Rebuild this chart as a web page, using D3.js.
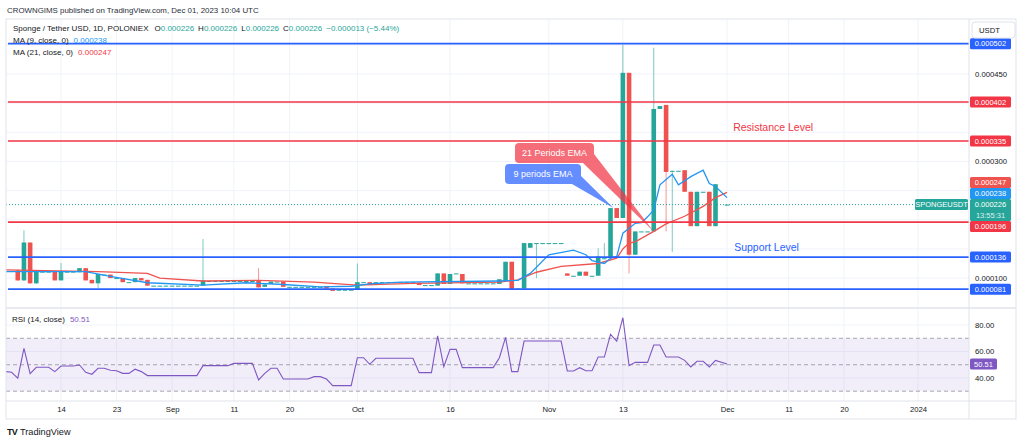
<!DOCTYPE html>
<html>
<head>
<meta charset="utf-8">
<title>SPONGEUSDT 1D</title>
<script src="https://cdn.jsdelivr.net/npm/d3@7"></script>
<style>
    body { margin: 0; background: #ffffff; }
    svg { display: block; font-family: "Liberation Sans", Arial, sans-serif; }
</style>
</head>
<body>
<div id="chart"></div>
<script>
// prices are in micro-USDT (1e-6 USDT)
// one bar per day, Aug 7 .. Nov 28, then the Dec 1 bar
const barDays = d3.timeDay.range(new Date(2023, 7, 7), new Date(2023, 10, 29))
    .concat([new Date(2023, 11, 1)]);

const opens = [
    113, 96, 161, 91, 111, 111, 111, 96, 111, 111, 110, 117, 97, 91, 106, 106, 100, 100, 93, 93, 100, 97, 87, 87, 87,
    87, 87, 87, 87, 87, 87, 95, 95, 95, 95, 95, 95, 95, 95, 96, 85, 90, 94, 94, 85, 85, 85, 85, 85, 85, 86, 82, 80, 80, 80,
    80, 93, 93, 89, 93, 93, 93, 93, 93, 93, 92, 88, 88, 87, 108, 90, 108, 107, 91, 91, 91, 91, 91, 90, 95, 128, 82, 82, 152, 160, 160,
    160, 160, 160, 108, 104, 104, 111, 104, 104, 134, 134, 220, 203, 452, 140, 180, 180, 180, 390, 397, 284, 284, 285, 248, 189, 248, 248, 189,
    226
];
const highs = [
    115, 182, 161, 111, 111, 111, 111, 126, 111, 111, 117, 117, 97, 107, 106, 106, 100, 100, 93, 100, 100, 97, 87, 87, 87,
    87, 87, 87, 87, 87, 167, 95, 95, 95, 95, 95, 95, 95, 95, 117, 89, 94, 94, 94, 85, 85, 85, 85, 85, 85, 86, 82, 80, 80, 80,
    125, 93, 93, 93, 93, 93, 93, 93, 93, 93, 92, 88, 88, 108, 108, 107, 108, 107, 91, 91, 91, 91, 91, 98, 128, 128, 82, 160, 160, 160, 160,
    160, 160, 160, 108, 104, 111, 111, 104, 151, 160, 220, 220, 500, 452, 180, 180, 180, 495, 395, 397, 284, 284, 285, 248, 248, 248, 248, 261,
    226
];
const lows = [
    95, 95, 90, 90, 111, 111, 96, 96, 111, 111, 110, 96, 91, 83, 106, 100, 100, 93, 93, 93, 96, 87, 87, 87, 87,
    87, 87, 87, 87, 87, 87, 95, 95, 95, 95, 95, 95, 95, 95, 84, 85, 90, 94, 85, 85, 85, 85, 85, 85, 85, 82, 78, 80, 80, 80,
    80, 93, 88, 89, 93, 93, 93, 93, 93, 93, 88, 88, 88, 87, 90, 90, 108, 91, 91, 91, 91, 91, 91, 90, 95, 81, 82, 82, 152, 100, 160,
    160, 160, 160, 104, 104, 104, 104, 104, 104, 134, 134, 203, 203, 108, 140, 180, 180, 180, 390, 180, 145, 284, 248, 189, 189, 248, 189, 189,
    226
];
const closes = [
    96, 161, 91, 111, 111, 111, 96, 111, 111, 111, 117, 96, 91, 107, 106, 100, 100, 93, 93, 100, 96, 87, 87, 87, 87,
    87, 87, 87, 87, 87, 96, 95, 95, 95, 95, 95, 95, 95, 95, 84, 89, 94, 94, 85, 85, 85, 85, 85, 85, 85, 82, 78, 80, 80, 80,
    93, 93, 88, 93, 93, 93, 93, 93, 93, 93, 88, 88, 88, 108, 90, 107, 108, 91, 91, 91, 91, 91, 91, 98, 128, 81, 82, 160, 160, 160, 160,
    160, 160, 160, 104, 104, 111, 104, 104, 137, 134, 220, 203, 452, 140, 180, 180, 180, 390, 395, 282, 284, 284, 248, 189, 248, 248, 189, 261,
    226
];

// MA (9) and MA (21)
const ma9Dates = ['2023-08-05', '2023-08-18', '2023-08-22', '2023-08-28', '2023-09-06', '2023-09-13', '2023-09-19',
    '2023-09-25', '2023-09-30', '2023-10-03', '2023-10-08', '2023-10-24', '2023-10-27', '2023-10-29', '2023-11-01',
    '2023-11-05', '2023-11-07', '2023-11-08', '2023-11-10', '2023-11-11', '2023-11-12', '2023-11-13', '2023-11-15',
    '2023-11-16', '2023-11-17', '2023-11-18', '2023-11-19', '2023-11-21', '2023-11-22', '2023-11-24', '2023-11-26',
    '2023-11-27', '2023-11-28', '2023-12-01'];
const ma9Values = [111, 111, 103, 92, 88, 92, 89, 85, 86, 90, 93, 95, 96, 108, 140, 148, 140, 130, 125, 134, 137,
    177, 194, 195, 205, 217, 260, 278, 260, 274, 285, 262, 257, 238];

const ma21Dates = ['2023-08-05', '2023-08-20', '2023-08-28', '2023-08-30', '2023-09-06', '2023-09-15', '2023-09-24',
    '2023-09-28', '2023-10-01', '2023-10-10', '2023-10-24', '2023-10-27', '2023-10-30', '2023-11-03', '2023-11-09',
    '2023-11-12', '2023-11-13', '2023-11-14', '2023-11-15', '2023-11-17', '2023-11-18', '2023-11-20', '2023-11-23',
    '2023-11-26', '2023-11-28', '2023-12-01'];
const ma21Values = [114, 111, 108, 100, 95, 96, 93, 90, 88, 91, 93, 97, 110, 120, 125, 134, 150, 160, 162, 174, 180,
    193, 206, 223, 238, 247];

// RSI (14, close)
const rsiDates = ['2023-08-05', '2023-08-06', '2023-08-07', '2023-08-08', '2023-08-09', '2023-08-10', '2023-08-12',
    '2023-08-13', '2023-08-14', '2023-08-16', '2023-08-17', '2023-08-18', '2023-08-19', '2023-08-20', '2023-08-21',
    '2023-08-22', '2023-08-23', '2023-08-24', '2023-08-25', '2023-08-26', '2023-08-27', '2023-08-28', '2023-09-05',
    '2023-09-06', '2023-09-10', '2023-09-11', '2023-09-14', '2023-09-15', '2023-09-16', '2023-09-17', '2023-09-18',
    '2023-09-19', '2023-09-23', '2023-09-24', '2023-09-25', '2023-09-26', '2023-09-27', '2023-09-30', '2023-10-01',
    '2023-10-02', '2023-10-03', '2023-10-04', '2023-10-10', '2023-10-11', '2023-10-13', '2023-10-14', '2023-10-15',
    '2023-10-16', '2023-10-17', '2023-10-18', '2023-10-23', '2023-10-24', '2023-10-25', '2023-10-26', '2023-10-27',
    '2023-10-28', '2023-11-03', '2023-11-04', '2023-11-05', '2023-11-06', '2023-11-07', '2023-11-08', '2023-11-09',
    '2023-11-10', '2023-11-11', '2023-11-12', '2023-11-13', '2023-11-14', '2023-11-15', '2023-11-17', '2023-11-18',
    '2023-11-19', '2023-11-20', '2023-11-22', '2023-11-23', '2023-11-24', '2023-11-25', '2023-11-26', '2023-11-27',
    '2023-11-28', '2023-12-01'];
const rsiValues = [44.8, 44.3, 39.8, 62.4, 43.3, 48.1, 48.1, 44.8, 49, 49, 49.8, 44.3, 42.8, 47.3, 47.3,
    45.8, 45.5, 43.5, 43.5, 46.6, 44.8, 41.8, 41.8, 49.3, 49.3, 51, 51, 38.5, 43.5, 47.3, 47.3,
    39.2, 39.2, 41, 41, 39.2, 34.2, 34.2, 55.3, 55.3, 50.3, 54.9, 54.9, 44, 44, 71.9, 48.6,
    61.6, 61.6, 47.8, 47.8, 55.3, 70.7, 44.8, 44.8, 67.9, 67.9, 45.3, 45.3, 47.8, 45.5, 45.5, 55.8,
    55.8, 73, 67.9, 85.5, 49.3, 51.8, 51.8, 64.9, 64.9, 55.8, 55.8, 53.3, 48.3, 52.6, 52.6, 48.3,
    53.3, 50.51];

// drawn levels
const blueLevels = [502, 136, 81];
const redLevels = [402, 335, 196];
const lastPrice = 226;
const lastRsi = 50.51;

// axis ticks
const tickDates = ['2023-08-14', '2023-08-23', '2023-09-01', '2023-09-11', '2023-09-20', '2023-10-01', '2023-10-16',
    '2023-11-01', '2023-11-13', '2023-12-01', '2023-12-11', '2023-12-20', '2024-01-01'];
const tickLabels = ['14', '23', 'Sep', '11', '20', 'Oct', '16', 'Nov', '13', 'Dec', '11', '20', '2024'];
const priceTicks = [100, 150, 200, 250, 300, 350, 400, 450, 500];
const rsiTicks = [80, 60, 40];
const rsiBands = [70, 50, 30];

const width = 1024, height = 443;
const frameLeft = 6, frameRight = 1016, frameTop = 19, frameBottom = 419;
const axisX = 969, priceBottom = 308, rsiBottom = 401;

const green = '#26a69a', red = '#ef5350', lineRed = '#f23645', lineBlue = '#2962ff', maBlue = '#2196f3',
    purple = '#7e57c2', textColor = '#131722', gridColor = '#f0f3fa', borderColor = '#e0e3eb';

const parse = d3.timeParse('%Y-%m-%d');
const fmtPrice = d => (d / 1e6).toFixed(6);

const svg = d3.select('#chart').append('svg')
    .attr('width', width)
    .attr('height', height);

svg.append('rect').attr('width', width).attr('height', height).attr('fill', '#ffffff');

// one bar is missing at the end of November, TradingView closes the gap
const x = d3.scaleTime()
    .domain([parse('2023-08-14'), parse('2023-11-28'), parse('2023-12-01'), parse('2024-01-01')])
    .range([61, 715.5, 727, 918]);

const y = d3.scaleLinear().domain([60, 540]).range([301.4, 21.5]);
const yRsi = d3.scaleLinear().domain([22, 93]).range([401.8, 307.8]);

const defs = svg.append('defs');
defs.append('clipPath').attr('id', 'clipPrice').append('rect')
    .attr('x', frameLeft).attr('y', frameTop)
    .attr('width', axisX - frameLeft).attr('height', priceBottom - frameTop);
defs.append('clipPath').attr('id', 'clipRsi').append('rect')
    .attr('x', frameLeft).attr('y', priceBottom)
    .attr('width', axisX - frameLeft).attr('height', rsiBottom - priceBottom);

// grid
const grid = svg.append('g');
tickDates.forEach(t => {
    grid.append('line')
        .attr('x1', x(parse(t))).attr('x2', x(parse(t)))
        .attr('y1', frameTop).attr('y2', rsiBottom)
        .attr('stroke', gridColor).attr('stroke-width', 1);
});
priceTicks.forEach(p => {
    grid.append('line')
        .attr('x1', frameLeft).attr('x2', axisX)
        .attr('y1', y(p)).attr('y2', y(p))
        .attr('stroke', gridColor).attr('stroke-width', 1);
});
rsiTicks.forEach(r => {
    grid.append('line')
        .attr('x1', frameLeft).attr('x2', axisX)
        .attr('y1', yRsi(r)).attr('y2', yRsi(r))
        .attr('stroke', gridColor).attr('stroke-width', 1);
});

// candles
const bars = barDays.map((d, i) => ({date: d, o: opens[i], h: highs[i], l: lows[i], c: closes[i]}));
const candleWidth = 4.6;
const pricePane = svg.append('g').attr('clip-path', 'url(#clipPrice)');

pricePane.selectAll('.wick')
    .data(bars)
    .enter()
    .append('line')
    .attr('class', 'wick')
    .attr('x1', d => x(d.date))
    .attr('x2', d => x(d.date))
    .attr('y1', d => y(d.h))
    .attr('y2', d => y(d.l))
    .attr('stroke', d => d.c >= d.o ? green : red)
    .attr('stroke-opacity', 0.6)
    .attr('stroke-width', 1);

pricePane.selectAll('.body')
    .data(bars)
    .enter()
    .append('rect')
    .attr('class', 'body')
    .attr('x', d => x(d.date) - candleWidth / 2)
    .attr('y', d => y(Math.max(d.o, d.c)))
    .attr('width', candleWidth)
    .attr('height', d => Math.max(1, Math.abs(y(d.o) - y(d.c))))
    .attr('fill', d => d.c >= d.o ? green : red);

// moving averages
const maLine = d3.line()
    .x(d => x(parse(d[0])))
    .y(d => y(d[1]));

pricePane.append('path')
    .datum(d3.zip(ma21Dates, ma21Values))
    .attr('fill', 'none')
    .attr('stroke', red)
    .attr('stroke-width', 1.3)
    .attr('d', maLine);

pricePane.append('path')
    .datum(d3.zip(ma9Dates, ma9Values))
    .attr('fill', 'none')
    .attr('stroke', maBlue)
    .attr('stroke-width', 1.3)
    .attr('d', maLine);

// last price dotted line
pricePane.append('line')
    .attr('x1', frameLeft).attr('x2', axisX)
    .attr('y1', y(lastPrice)).attr('y2', y(lastPrice))
    .attr('stroke', green)
    .attr('stroke-width', 1)
    .attr('stroke-dasharray', '1,2');

// horizontal levels
blueLevels.forEach(v => {
    pricePane.append('line')
        .attr('x1', frameLeft + 2).attr('x2', axisX)
        .attr('y1', y(v)).attr('y2', y(v))
        .attr('stroke', lineBlue).attr('stroke-width', 1.6);
});
redLevels.forEach(v => {
    pricePane.append('line')
        .attr('x1', frameLeft + 2).attr('x2', axisX)
        .attr('y1', y(v)).attr('y2', y(v))
        .attr('stroke', lineRed).attr('stroke-width', 1.6);
});

pricePane.append('text')
    .attr('x', x(parse('2023-12-02')))
    .attr('y', y(359))
    .attr('dy', '0.35em')
    .attr('font-size', 10.5)
    .attr('fill', lineRed)
    .text('Resistance Level');

pricePane.append('text')
    .attr('x', x(parse('2023-12-02')) + 1)
    .attr('y', y(153))
    .attr('dy', '0.35em')
    .attr('font-size', 10.5)
    .attr('fill', lineBlue)
    .text('Support Level');

// callouts
const callouts = [
    {text: '21 Periods EMA', fill: lineRed, box: [515, 143, 79, 20], base: [[583, 163], [594, 154]],
        tip: [x(parse('2023-11-18')), y(180)]},
    {text: '9 periods EMA', fill: lineBlue, box: [505, 164, 76, 20], base: [[572, 184], [581, 176]],
        tip: [x(parse('2023-11-11')) + 3, y(220)]}
];
callouts.forEach(c => {
    const g = pricePane.append('g').attr('opacity', 0.72);
    g.append('path')
        .attr('d', d3.line()([c.base[0], c.base[1], c.tip]) + 'Z')
        .attr('fill', c.fill);
    g.append('rect')
        .attr('x', c.box[0]).attr('y', c.box[1])
        .attr('width', c.box[2]).attr('height', c.box[3])
        .attr('rx', 4)
        .attr('fill', c.fill);
    pricePane.append('text')
        .attr('x', c.box[0] + c.box[2] / 2)
        .attr('y', c.box[1] + c.box[3] / 2)
        .attr('dy', '0.35em')
        .attr('text-anchor', 'middle')
        .attr('font-size', 9)
        .attr('fill', '#ffffff')
        .text(c.text);
});

// RSI pane
const rsiPane = svg.append('g').attr('clip-path', 'url(#clipRsi)');
rsiPane.append('rect')
    .attr('x', frameLeft).attr('width', axisX - frameLeft)
    .attr('y', yRsi(rsiBands[0]))
    .attr('height', yRsi(rsiBands[2]) - yRsi(rsiBands[0]))
    .attr('fill', purple)
    .attr('fill-opacity', 0.1);
rsiBands.forEach(b => {
    rsiPane.append('line')
        .attr('x1', frameLeft).attr('x2', axisX)
        .attr('y1', yRsi(b)).attr('y2', yRsi(b))
        .attr('stroke', '#787b86')
        .attr('stroke-opacity', 0.8)
        .attr('stroke-width', 0.8)
        .attr('stroke-dasharray', '4,3');
});
rsiPane.append('path')
    .datum(d3.zip(rsiDates, rsiValues))
    .attr('fill', 'none')
    .attr('stroke', purple)
    .attr('stroke-width', 1.1)
    .attr('d', d3.line().x(d => x(parse(d[0]))).y(d => yRsi(d[1])));

// frame and separators
svg.append('rect')
    .attr('x', frameLeft).attr('y', frameTop)
    .attr('width', frameRight - frameLeft).attr('height', frameBottom - frameTop)
    .attr('fill', 'none').attr('stroke', borderColor).attr('stroke-width', 1);
[priceBottom, rsiBottom].forEach(v => {
    svg.append('line')
        .attr('x1', frameLeft).attr('x2', frameRight)
        .attr('y1', v).attr('y2', v)
        .attr('stroke', borderColor).attr('stroke-width', v === priceBottom ? 1.5 : 1);
});
svg.append('line')
    .attr('x1', axisX).attr('x2', axisX)
    .attr('y1', frameTop).attr('y2', frameBottom)
    .attr('stroke', borderColor).attr('stroke-width', 1);

// price scale tags, pushed apart like TradingView does
const tagH = 11;
const tags = blueLevels.map(v => ({v: v, fill: lineBlue}))
    .concat(redLevels.map(v => ({v: v, fill: lineRed})))
    .concat([{v: ma21Values[ma21Values.length - 1], fill: red}, {v: ma9Values[ma9Values.length - 1], fill: maBlue}])
    .map(t => Object.assign(t, {cy: y(t.v)}));
const priceY = y(lastPrice);
let limit = priceY - tagH / 2;
tags.filter(t => t.cy <= priceY).sort((a, b) => b.cy - a.cy).forEach(t => {
    t.cy = Math.min(t.cy, limit - tagH / 2);
    limit = t.cy - tagH / 2;
});
limit = priceY + tagH * 1.5;
tags.filter(t => t.cy > priceY).sort((a, b) => a.cy - b.cy).forEach(t => {
    t.cy = Math.max(t.cy, limit + tagH / 2);
    limit = t.cy + tagH / 2;
});

const allTagY = tags.map(t => t.cy).concat([priceY, priceY + tagH]);
const priceAxis = d3.axisRight(y)
    .tickValues(priceTicks.filter(p => allTagY.every(ty => Math.abs(ty - y(p)) >= 9)))
    .tickFormat(fmtPrice)
    .tickSize(0)
    .tickPadding(6);
svg.append('g')
    .attr('transform', `translate(${axisX},0)`)
    .call(priceAxis)
    .call(g => g.select('.domain').remove())
    .selectAll('text')
    .attr('font-size', 7.7)
    .attr('font-family', '"Liberation Sans", Arial, sans-serif')
    .attr('fill', textColor);

const tagLayer = svg.append('g').attr('font-size', 7.5).attr('text-anchor', 'middle');
tags.forEach(t => {
    tagLayer.append('rect')
        .attr('x', axisX + 1).attr('y', t.cy - tagH / 2)
        .attr('width', 41).attr('height', tagH)
        .attr('rx', 1.5)
        .attr('fill', t.fill);
    tagLayer.append('text')
        .attr('x', axisX + 21.5).attr('y', t.cy)
        .attr('dy', '0.35em')
        .attr('fill', '#ffffff')
        .text(fmtPrice(t.v));
});

tagLayer.append('rect')
    .attr('x', axisX + 1).attr('y', priceY - tagH / 2)
    .attr('width', 41).attr('height', tagH * 2)
    .attr('rx', 1.5)
    .attr('fill', green);
tagLayer.append('text')
    .attr('x', axisX + 21.5).attr('y', priceY).attr('dy', '0.35em')
    .attr('fill', '#ffffff').text(fmtPrice(lastPrice));
tagLayer.append('text')
    .attr('x', axisX + 21.5).attr('y', priceY + tagH).attr('dy', '0.35em')
    .attr('fill', '#ffffff').attr('fill-opacity', 0.85).text('13:55:31');
tagLayer.append('rect')
    .attr('x', axisX - 54).attr('y', priceY - tagH / 2)
    .attr('width', 53).attr('height', tagH)
    .attr('rx', 1.5)
    .attr('fill', green);
tagLayer.append('text')
    .attr('x', axisX - 27.5).attr('y', priceY).attr('dy', '0.35em')
    .attr('fill', '#ffffff').text('SPONGEUSDT');

// currency box
svg.append('rect')
    .attr('x', axisX + 3).attr('y', frameTop + 3)
    .attr('width', 43).attr('height', 16)
    .attr('rx', 3)
    .attr('fill', '#ffffff')
    .attr('stroke', borderColor);
svg.append('text')
    .attr('x', axisX + 10).attr('y', frameTop + 11).attr('dy', '0.35em')
    .attr('font-size', 7.7).attr('fill', textColor)
    .text('USDT');

// RSI scale
svg.append('g')
    .attr('transform', `translate(${axisX},0)`)
    .call(d3.axisRight(yRsi).tickValues(rsiTicks).tickFormat(d3.format('.2f')).tickSize(0).tickPadding(6))
    .call(g => g.select('.domain').remove())
    .selectAll('text')
    .attr('font-size', 7.7)
    .attr('font-family', '"Liberation Sans", Arial, sans-serif')
    .attr('fill', textColor);
svg.append('rect')
    .attr('x', axisX + 1).attr('y', yRsi(lastRsi) - tagH / 2)
    .attr('width', 27).attr('height', tagH)
    .attr('rx', 1.5)
    .attr('fill', purple);
svg.append('text')
    .attr('x', axisX + 14.5).attr('y', yRsi(lastRsi)).attr('dy', '0.35em')
    .attr('text-anchor', 'middle')
    .attr('font-size', 7.5).attr('fill', '#ffffff')
    .text(lastRsi.toFixed(2));

// time scale
const timeAxis = d3.axisBottom(x)
    .tickValues(tickDates.map(parse))
    .tickFormat((d, i) => tickLabels[i])
    .tickSize(0)
    .tickPadding(0);
svg.append('g')
    .attr('transform', `translate(0,${rsiBottom + 6})`)
    .call(timeAxis)
    .call(g => g.select('.domain').remove())
    .selectAll('text')
    .attr('font-size', 7.7)
    .attr('font-family', '"Liberation Sans", Arial, sans-serif')
    .attr('fill', textColor);

// header and legends
svg.append('text')
    .attr('x', 7).attr('y', 13)
    .attr('font-size', 7.9).attr('fill', '#2a2e39')
    .text('CROWNGIMS published on TradingView.com, Dec 01, 2023 10:04 UTC');

const legend = svg.append('g').attr('font-size', 8).attr('fill', textColor);
const l1 = legend.append('text').attr('x', 13).attr('y', 31);
l1.append('tspan').text('Sponge / Tether USD, 1D, POLONIEX');
[['O', opens], ['H', highs], ['L', lows], ['C', closes]].forEach((p, i) => {
    l1.append('tspan').attr('dx', i === 0 ? 6 : 4).text(p[0]);
    l1.append('tspan').attr('fill', green).text(fmtPrice(p[1][p[1].length - 1]));
});
l1.append('tspan').attr('dx', 4).attr('fill', green).text('\u22120.000013 (\u22125.44%)');

const l2 = legend.append('text').attr('x', 13).attr('y', 43);
l2.append('tspan').text('MA (9, close, 0)');
l2.append('tspan').attr('dx', 5).attr('fill', maBlue).text(fmtPrice(ma9Values[ma9Values.length - 1]));

const l3 = legend.append('text').attr('x', 13).attr('y', 54.5);
l3.append('tspan').text('MA (21, close, 0)');
l3.append('tspan').attr('dx', 5).attr('fill', lineRed).text(fmtPrice(ma21Values[ma21Values.length - 1]));

const l4 = legend.append('text').attr('x', 12).attr('y', 322);
l4.append('tspan').text('RSI (14, close)');
l4.append('tspan').attr('dx', 5).attr('fill', purple).text(lastRsi.toFixed(2));

// footer logo
svg.append('text')
    .attr('x', 7).attr('y', 435)
    .attr('font-size', 9).attr('font-weight', 'bold').attr('letter-spacing', -0.8)
    .attr('fill', textColor)
    .text('TV');
svg.append('text')
    .attr('x', 20).attr('y', 435)
    .attr('font-size', 9.2).attr('fill', textColor)
    .text('TradingView');
</script>
</body>
</html>
